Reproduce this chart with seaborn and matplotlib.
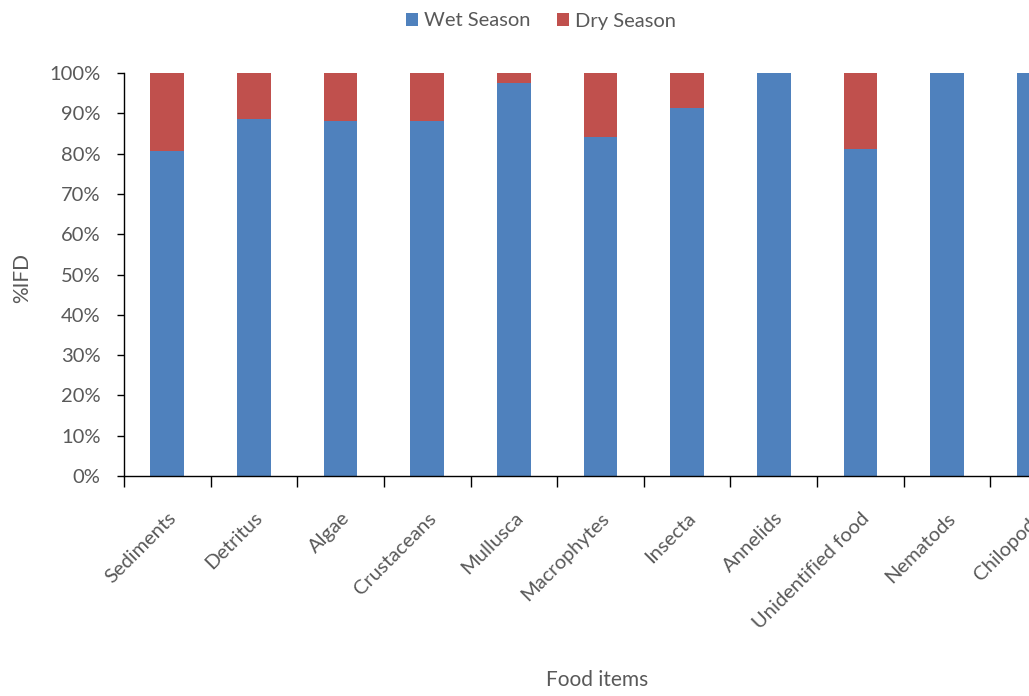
import matplotlib
matplotlib.use("Agg")
import matplotlib.pyplot as plt
import seaborn as sns
import pandas as pd
import numpy as np
from matplotlib.patches import Patch
from matplotlib.ticker import FixedLocator, PercentFormatter

categories = ["Sediments", "Detritus", "Algae", "Crustaceans", "Mullusca", "Macrophytes",
              "Insecta", "Annelids", "Unidentified food", "Nematods", "Chilopods"]
wet = [80.6, 88.5, 88.1, 88.1, 97.4, 84.0, 91.4, 100.0, 81.1, 100.0, 100.0]
dry = [19.4, 11.5, 11.9, 11.9, 2.6, 16.0, 8.6, 0.0, 18.9, 0.0, 0.0]
yticks = [0, 10, 20, 30, 40, 50, 60, 70, 80, 90, 100]

BLUE = "#4F81BD"
RED = "#C0504D"
GRAY = "#595959"

sns.set_theme(style="white")
plt.rcParams["font.family"] = ["Lato", "DejaVu Sans"]

df = pd.DataFrame({"item": categories, "wet": wet, "dry": dry})
df["total"] = df["wet"] + df["dry"]

fig = plt.figure(figsize=(10.29, 6.96), dpi=100)
ax = fig.add_axes([124 / 1029, 1 - 476 / 696, (1077 - 124) / 1029, (476 - 73) / 696])

sns.barplot(data=df, x="item", y="total", color=RED, width=0.39, saturation=1,
            ax=ax, edgecolor="none")
sns.barplot(data=df, x="item", y="wet", color=BLUE, width=0.39, saturation=1,
            ax=ax, edgecolor="none")

ax.set_xlim(-0.5, len(categories) - 0.5)
ax.set_ylim(0, 100)
ax.yaxis.set_major_locator(FixedLocator(yticks))
ax.yaxis.set_major_formatter(PercentFormatter(decimals=0))

for s in ["top", "right"]:
    ax.spines[s].set_visible(False)
for s in ["left", "bottom"]:
    ax.spines[s].set_color("black")
    ax.spines[s].set_linewidth(1.0)

ax.tick_params(axis="y", which="major", direction="out", length=5, width=1,
               color="black", labelsize=14.5, labelcolor=GRAY, pad=12, left=True)
ax.set_xticks(range(len(categories)))
ax.set_xticklabels(categories, rotation=45, ha="right", rotation_mode="anchor",
                   fontsize=14.5, color=GRAY)
ax.tick_params(axis="x", which="major", length=0, pad=24)
ax.set_xticks(np.arange(-0.5, len(categories), 1.0), minor=True)
ax.tick_params(axis="x", which="minor", direction="out", length=8, width=1,
               color="black", bottom=True)

ax.set_xlabel("")
ax.set_ylabel("")
fig.text(597 / 1029, 1 - 680 / 696, "Food items", ha="center", va="center",
         fontsize=15, color=GRAY)
fig.text(22 / 1029, 1 - 278 / 696, "%IFD", ha="center", va="center",
         rotation=90, fontsize=15, color=GRAY)

handles = [Patch(facecolor=BLUE, edgecolor="none", label="Wet Season"),
           Patch(facecolor=RED, edgecolor="none", label="Dry Season")]
fig.legend(handles=handles, loc="center", bbox_to_anchor=(541 / 1029, 1 - 21 / 696),
           ncol=2, frameon=False, fontsize=14.5, labelcolor=GRAY,
           handlelength=0.6, handleheight=0.6, handletextpad=0.3, columnspacing=1.3)

fig.savefig("out.png", dpi=100)
